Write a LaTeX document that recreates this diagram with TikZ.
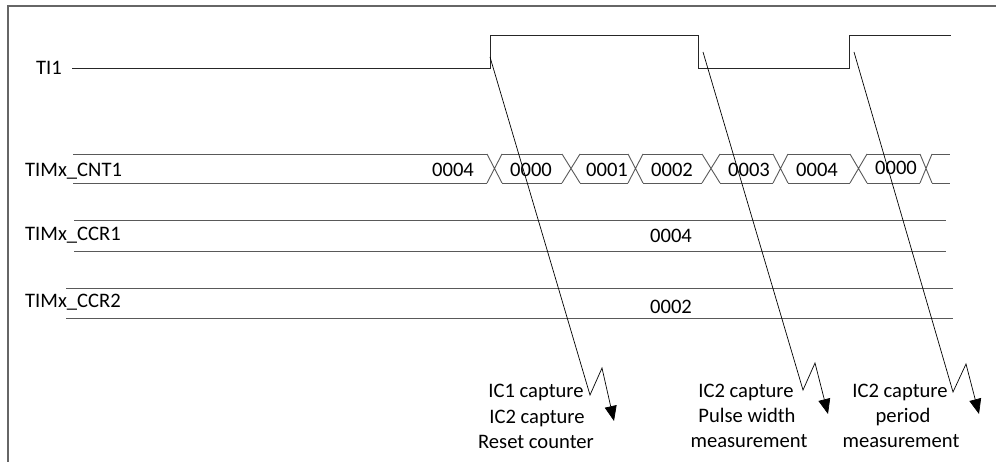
\documentclass[tikz,border=0pt]{standalone}
\usepackage{fontspec}
\setmainfont{Carlito}
\usetikzlibrary{arrows.meta}
\begin{document}
\begin{tikzpicture}[x=1pt,y=-1pt,
  lbl/.style={anchor=base west,inner sep=0pt,font=\fontsize{20.6}{24}\selectfont},
  val/.style={anchor=base,inner sep=0pt,font=\fontsize{20.6}{24}\selectfont},
  note/.style={anchor=base,inner sep=0pt,font=\fontsize{20.6}{24}\selectfont},
  frameline/.style={draw=black!60,line width=1.3pt},
  sig/.style={draw=black!85,line width=0.9pt},
  bus/.style={draw=black!65,line width=0.9pt},
  evt/.style={draw=black,line width=0.7pt,-{Triangle[length=15pt,width=12pt]}}]
\useasboundingbox (0,0) rectangle (996,462);
% frame (partly visible)
\draw[frameline] (8,462) -- (8,6) -- (996,6);
% labels
\node[lbl] (lti) at (36,75) {TI1};
\node[lbl] (lcnt) at (25,177) {TIMx\_CNT1};
\node[lbl] (lccr1) at (25,241) {TIMx\_CCR1};
\node[lbl] (lccr2) at (25,308) {TIMx\_CCR2};
% TI1 signal
\draw[sig] (72,68) -- (490,68) -- (490,35) -- (698,35) -- (698,68) -- (849,68) -- (849,35) -- (951,35);
% CNT1 bus
\def\ya{154}\def\yb{183}
\draw[bus] (73,\ya) -- (487,\ya) (502,\ya) -- (562,\ya) (580,\ya) -- (628,\ya) (643,\ya) -- (702,\ya)
  (720,\ya) -- (773,\ya) (788,\ya) -- (850,\ya) (867,\ya) -- (920,\ya) (932,\ya) -- (950,\ya);
\draw[bus] (73,\yb) -- (487,\yb) (502,\yb) -- (562,\yb) (580,\yb) -- (628,\yb) (643,\yb) -- (702,\yb)
  (720,\yb) -- (773,\yb) (788,\yb) -- (850,\yb) (867,\yb) -- (920,\yb) (932,\yb) -- (950,\yb);
\foreach \a/\b in {487/502,562/580,628/643,702/720,773/788,850/867,920/932}{
  \draw[bus] (\a,\ya) -- (\b,\yb) (\a,\yb) -- (\b,\ya);
}
\node[val] (c1) at (453,177) {0004};
\node[val] (c2) at (531,177) {0000};
\node[val] (c3) at (607,177) {0001};
\node[val] (c4) at (672,177) {0002};
\node[val] (c5) at (749,177) {0003};
\node[val] (c6) at (817,177) {0004};
\node[val] (c7) at (896,175) {0000};
% CCR1 bus
\draw[bus] (74,220) -- (946,220) (74,251) -- (946,251);
\node[val] (r1) at (671,243) {0004};
% CCR2 bus
\draw[bus] (66,288) -- (953,288) (66,318) -- (953,318);
\node[val] (r2) at (671,314) {0002};
% event arrows
\coordinate (s1) at (490,57);
\coordinate (k1) at (590,395);
\coordinate (p1) at (602,368);
\coordinate (t1) at (614,421);
\draw[evt] (s1) -- (k1) -- (p1) -- (t1);
\coordinate (s2) at (703,52);
\coordinate (k2) at (803,390);
\coordinate (p2) at (815,363);
\coordinate (t2) at (828,414);
\draw[evt] (s2) -- (k2) -- (p2) -- (t2);
\coordinate (s3) at (854,52);
\coordinate (k3) at (953,392);
\coordinate (p3) at (966,364);
\coordinate (t3) at (979,414);
\draw[evt] (s3) -- (k3) -- (p3) -- (t3);
% notes
\node[note] (n11) at (536,397) {IC1 capture};
\node[note] (n12) at (537,423) {IC2 capture};
\node[note] (n13) at (536,448) {Reset counter};
\node[note] (n21) at (746,397) {IC2 capture};
\node[note] (n22) at (747,422) {Pulse width};
\node[note] (n23) at (749,447) {measurement};
\node[note] (n31) at (900,397) {IC2 capture};
\node[note] (n32) at (903,422) {period};
\node[note] (n33) at (901,447) {measurement};
\end{tikzpicture}
\end{document}
